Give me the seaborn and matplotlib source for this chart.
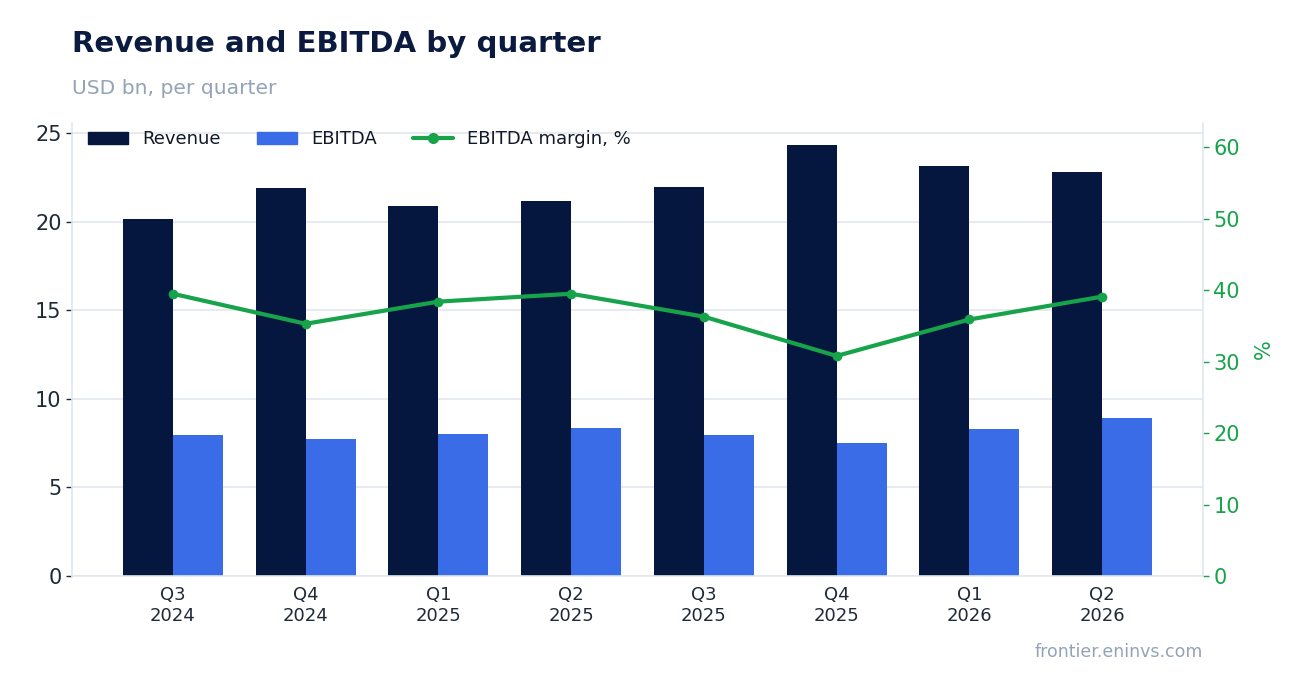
import numpy as np
import pandas as pd
import matplotlib
matplotlib.use("Agg")
import matplotlib.pyplot as plt
import seaborn as sns

quarters = ["Q3\n2024", "Q4\n2024", "Q1\n2025", "Q2\n2025",
            "Q3\n2025", "Q4\n2025", "Q1\n2026", "Q2\n2026"]
revenue = [20.15, 21.9, 20.88, 21.16, 21.95, 24.32, 23.14, 22.8]
ebitda = [7.96, 7.73, 8.01, 8.35, 7.96, 7.5, 8.3, 8.92]
margin = [39.5, 35.3, 38.4, 39.5, 36.3, 30.8, 35.9, 39.1]

NAVY = "#05173f"
BLUE = "#3b6ce7"
GREEN = "#16a34a"
GRID = "#e2e8f0"
MUTED = "#94a3b8"

df = pd.DataFrame({
    "quarter": quarters * 2,
    "value": revenue + ebitda,
    "series": ["Revenue"] * len(quarters) + ["EBITDA"] * len(quarters),
})

sns.set_style("white")
plt.rcParams["font.family"] = ["DejaVu Sans"]

fig = plt.figure(figsize=(13.02, 6.93), dpi=100)
ax = fig.add_axes([72 / 1302, 1 - 576 / 693, (1203 - 72) / 1302, (576 - 123) / 693])

sns.barplot(data=df, x="quarter", y="value", hue="series", order=quarters,
            palette={"Revenue": NAVY, "EBITDA": BLUE}, width=0.755,
            saturation=1, linewidth=0, ax=ax, legend=False)

ax.set_xlim(-0.76, len(quarters) - 1 + 0.76)
ax.set_ylim(0, 25.56)
ax.set_yticks([0, 5, 10, 15, 20, 25])
ax.set_xlabel("")
ax.set_ylabel("")
ax.grid(axis="y", color=GRID, linewidth=1.2)
ax.set_axisbelow(True)
ax.tick_params(axis="y", labelsize=15, colors="#1f2937", length=4, width=1,
               labelcolor="#1f2937")
ax.tick_params(axis="x", labelsize=13, colors="#1f2937", length=4, width=1,
               labelcolor="#1f2937")
for s in ["top", "right"]:
    ax.spines[s].set_visible(False)
for s in ["left", "bottom"]:
    ax.spines[s].set_color(GRID)
    ax.spines[s].set_linewidth(1.2)

ax2 = ax.twinx()
sns.lineplot(x=np.arange(len(quarters)), y=margin, color=GREEN, linewidth=3,
             marker="o", markersize=7, markeredgewidth=0, ax=ax2)
ax2.set_ylim(0, 63.4)
ax2.set_yticks([0, 10, 20, 30, 40, 50, 60])
ax2.set_ylabel("%", color=GREEN, fontsize=15, labelpad=10)
ax2.tick_params(axis="y", labelsize=15, colors=GREEN, length=4, width=1)
for s in ["top", "left", "bottom"]:
    ax2.spines[s].set_visible(False)
ax2.spines["right"].set_color(GRID)
ax2.spines["right"].set_linewidth(1.2)

handles = [
    plt.Rectangle((0, 0), 1, 1, color=NAVY),
    plt.Rectangle((0, 0), 1, 1, color=BLUE),
    plt.Line2D([0], [0], color=GREEN, linewidth=3, marker="o", markersize=7),
]
ax.legend(handles, ["Revenue", "EBITDA", "EBITDA margin, %"], loc="upper left",
          ncol=3, frameon=False, fontsize=13, bbox_to_anchor=(0.0, 1.02),
          handlelength=2.2, columnspacing=2.0, labelcolor="#111827")

fig.text(72 / 1302, 1 - 44 / 693, "Revenue and EBITDA by quarter",
         fontsize=21.1, fontweight="bold", color="#0b1a3f", va="center")
fig.text(72 / 1302, 1 - 88 / 693, "USD bn, per quarter", fontsize=14.6,
         color=MUTED, va="center")
fig.text(1203 / 1302, 1 - 652 / 693, "frontier.eninvs.com", fontsize=12.5,
         color=MUTED, ha="right", va="center")

fig.savefig("out.png", dpi=100)
